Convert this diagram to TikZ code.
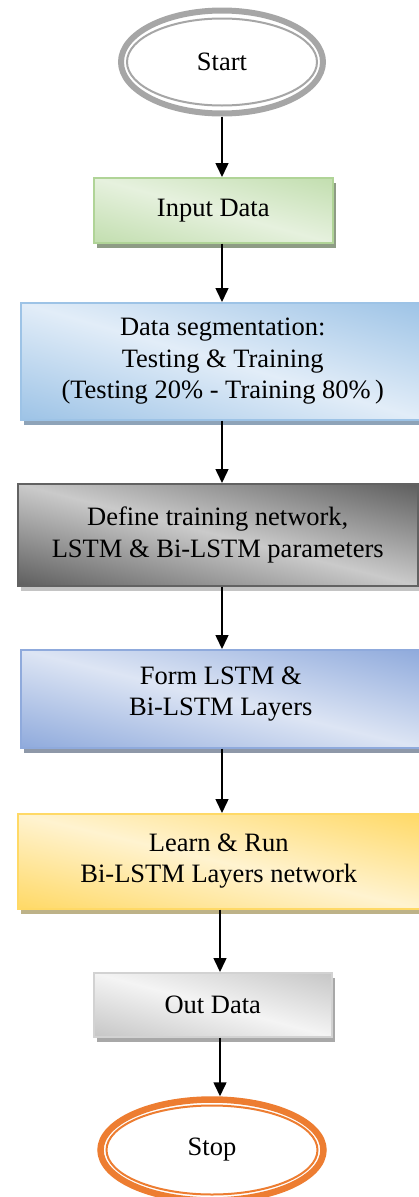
\documentclass[tikz,border=0pt]{standalone}
\usepackage{fontspec}
\setmainfont{Liberation Serif}
\usetikzlibrary{shapes.geometric,arrows.meta,shadows}

\definecolor{ringgray}{HTML}{A6A6A6}
\definecolor{ringorange}{HTML}{ED7D31}
\definecolor{grnLight}{HTML}{E6F1DE}
\definecolor{grnDark}{HTML}{C2DEAF}
\definecolor{grnEdge}{HTML}{B0D497}
\definecolor{grnShadow}{HTML}{8E9C85}
\definecolor{bluLight}{HTML}{E2EDF8}
\definecolor{bluDark}{HTML}{9DC3E6}
\definecolor{bluShadow}{HTML}{8EA3B8}
\definecolor{gryLight}{HTML}{CACACA}
\definecolor{gryDark}{HTML}{5E5E5E}
\definecolor{gryEdge}{HTML}{626262}
\definecolor{gryShadow}{HTML}{C4C4C4}
\definecolor{perLight}{HTML}{DDE5F4}
\definecolor{perDark}{HTML}{8FAADC}
\definecolor{perShadow}{HTML}{8E98A8}
\definecolor{ylwLight}{HTML}{FFF3D0}
\definecolor{ylwDark}{HTML}{FFD966}
\definecolor{ylwShadow}{HTML}{BDB288}
\definecolor{outLight}{HTML}{F4F4F4}
\definecolor{outDark}{HTML}{C6C6C6}
\definecolor{outEdge}{HTML}{D2D2D2}
\definecolor{outShadow}{HTML}{A8A8A8}

% dark-light-dark gradient whose light band runs along the
% top-left to bottom-right diagonal of the box
\newcommand\diaggradfill[2]{%
  \pgfpointdiff{\pgfpointanchor{path picture bounding box}{south west}}%
               {\pgfpointanchor{path picture bounding box}{north east}}%
  \pgfgetlastxy{\gbw}{\gbh}%
  \pgfmathsetmacro\gang{atan2(\gbh,\gbw)}%
  \pgfmathsetmacro\ghalf{\gbh*(\gbw/veclen(\gbw,\gbh))}%
  \shade[transform canvas={rotate around={-\gang:(path picture bounding box.center)}},
         top color=#2, bottom color=#2, middle color=#1]
    ([xshift=-300pt,yshift=-\ghalf pt]path picture bounding box.center) rectangle
    ([xshift=300pt,yshift=\ghalf pt]path picture bounding box.center);%
}

\tikzset{
  txt/.style={font=\fontsize{26.5}{31.5}\selectfont},
  stepbox/.style={rectangle, anchor=north west, inner sep=0pt, align=center,
    line width=1.5pt, txt},
  boxshade/.style n args={4}{draw=#3,
    path picture={\diaggradfill{#1}{#2}},
    drop shadow={shadow xshift=3pt, shadow yshift=-5pt, opacity=1, fill=#4}},
  arr/.style={line width=1.5pt, -{Triangle[width=13pt,length=14pt]}},
}

\begin{document}
\begin{tikzpicture}[x=1pt,y=-1pt]
\useasboundingbox (0,0) rectangle (419,1197);

% terminals
\node[ellipse, draw=ringgray, line width=6pt, fill=white, minimum width=202pt,
      minimum height=103pt, inner sep=0pt, txt] (start) at (222,62) {Start};
\draw[ringgray, line width=2pt] (start.center) ellipse [x radius=95, y radius=43.5];

\node[ellipse, draw=ringorange, line width=6.5pt, fill=white, minimum width=223pt,
      minimum height=101pt, inner sep=0pt, txt] (stop) at (212,1150) {Stop};
\draw[ringorange, line width=2pt] (stop.center) ellipse [x radius=105.5, y radius=44.5];

% process steps
\node[stepbox, boxshade={grnLight}{grnDark}{grnEdge}{grnShadow},
      minimum width=239pt, minimum height=65pt] (input) at (93,177) {Input Data};
\node[stepbox, boxshade={bluLight}{bluDark}{bluDark}{bluShadow},
      minimum width=404pt, minimum height=117pt] (seg) at (20,302)
      {Data segmentation:\\Testing \& Training\\(Testing 20\% - Training 80\%\,)};
\node[stepbox, boxshade={gryLight}{gryDark}{gryEdge}{gryShadow},
      minimum width=400pt, minimum height=102pt] (define) at (17,483)
      {Define training network,\\LSTM \& Bi-LSTM parameters};
\node[stepbox, boxshade={perLight}{perDark}{perDark}{perShadow},
      minimum width=400pt, minimum height=98pt] (form) at (20,649)
      {\raisebox{5pt}[\height][\depth]{\begin{tabular}{@{}c@{}}Form LSTM \&\\Bi-LSTM Layers\end{tabular}}};
\node[stepbox, boxshade={ylwLight}{ylwDark}{ylwDark}{ylwShadow},
      minimum width=402pt, minimum height=95pt] (learn) at (17,813)
      {Learn \& Run\\Bi-LSTM Layers network};
\node[stepbox, boxshade={outLight}{outDark}{outEdge}{outShadow},
      minimum width=238pt, minimum height=64pt] (out) at (93,972) {Out Data};

% connector columns
\coordinate (ax) at (222,0);
\coordinate (bx) at (220,0);

\draw[arr] (start.south -| ax) -- (input.north -| ax);
\draw[arr] (input.south -| ax) -- (seg.north -| ax);
\draw[arr] (seg.south -| ax) -- (define.north -| ax);
\draw[arr] (define.south -| ax) -- (form.north -| ax);
\draw[arr] (form.south -| ax) -- (learn.north -| ax);
\draw[arr] (learn.south -| bx) -- (out.north -| bx);
\draw[arr] (out.south -| bx) -- (stop.north -| bx);
\end{tikzpicture}
\end{document}
